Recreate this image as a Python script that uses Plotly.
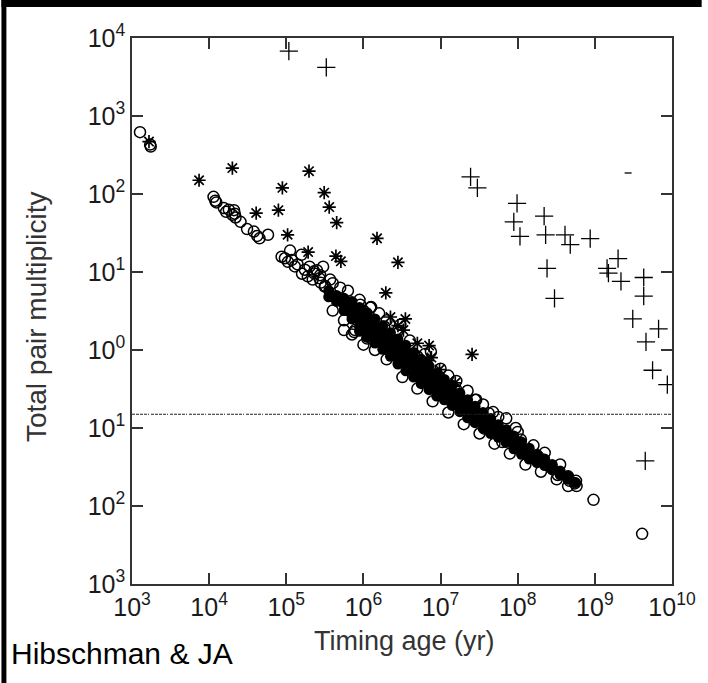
import plotly.graph_objects as go

# ---------------- data ----------------
# open circles: outliers and edges of the dense band
circ_age = [1.27e3, 1.72e3, 1.75e3,
            1.14e4, 1.2e4, 1.24e4, 1.55e4, 1.8e4, 2.1e4, 1.66e4, 2.0e4, 2.15e4, 2.55e4, 3.1e4, 3.8e4, 4.2e4, 4.5e4, 5.8e4, 2.2e4,
            8.7e4, 1.12e5, 9.6e4, 1.18e5, 1.57e5, 1.29e5, 1.74e5, 2.0e5, 2.3e5, 2.7e5, 3.15e5, 1.05e5, 1.4e5, 1.6e5, 1.9e5, 2.5e5, 2.2e5, 2.8e5,
            2.3e5, 3.0e5, 2.75e5, 3.7e5, 3.2e5,
            1.0e6, 5.6e5, 7.6e5, 1.23e6, 1.86e6, 2.1e6, 1.12e6, 7.8e5, 2.6e6, 3.3e6,
            2.75e6, 5.0e6, 1.26e7, 1.6e7, 2.8e7, 2.9e7, 4.2e7, 4.8e7, 7.1e7, 9.4e7, 1.1e8, 1.85e8, 2.75e8, 4.5e8, 5.5e8, 5.7e8,
            3.7e7, 6.3e7, 1.38e8, 2.7e8, 3.3e8, 4.7e8, 5.8e8,
            4.0e5, 5.0e5, 6.3e5, 8.9e5, 1.26e6, 1.6e6, 2.0e6, 2.8e6, 4.0e6, 6.3e6, 1.0e7, 1.6e7, 2.24e7, 3.55e7,
            5.6e7, 1.0e8, 1.6e8, 2.24e8, 3.55e8,
            4.0e5, 5.6e5, 7.1e5, 1.0e6, 1.41e6, 2.0e6, 3.2e6, 5.0e6, 7.9e6, 1.26e7, 2.0e7, 3.2e7, 5.0e7, 7.9e7,
            1.26e8, 2.0e8, 3.2e8, 4.5e8,
            9.1e5, 1.23e6, 3.0e6, 7.5e6,
            9.6e8, 4.1e9]
circ_mult = [620, 430, 405,
             92, 82, 78, 66, 63, 62, 59, 54, 56, 44, 35.5, 33, 29, 27, 30, 50,
             15.7, 18.8, 15, 14.3, 16.6, 11.8, 10.7, 11.7, 9.6, 8.3, 6.5, 13.5, 12.5, 9.5, 8.8, 10.5, 8.0, 7.3,
             10.2, 11.7, 9.1, 8.0, 6.6,
             3.2, 1.8, 1.7, 3.5, 2.0, 1.55, 1.4, 1.8, 1.15, 0.93,
             1.23, 0.83, 0.47, 0.31, 0.23, 0.23, 0.155, 0.16, 0.133, 0.1, 0.071, 0.043, 0.032, 0.024, 0.0195, 0.021,
             0.098, 0.066, 0.045, 0.031, 0.025, 0.021, 0.018,
             7.2, 6.3, 5.75, 4.4, 3.55, 2.95, 2.4, 1.78, 1.32, 0.89, 0.575, 0.4, 0.3, 0.2,
             0.138, 0.089, 0.06, 0.048, 0.034,
             3.2, 2.4, 1.58, 1.17, 1.0, 0.76, 0.45, 0.32, 0.22, 0.158, 0.112, 0.085, 0.063, 0.047,
             0.034, 0.0275, 0.022, 0.018,
             3.8, 3.5, 2.1, 0.95,
             0.012, 0.0044]

# densely packed circles inside the band (appear solid black)
core_age = [3.55e5, 3.55e5,
            4.47e5, 4.47e5,
            5.6e5, 5.6e5, 5.6e5,
            7.1e5, 7.1e5, 7.1e5, 7.1e5,
            8.9e5, 8.9e5, 8.9e5, 8.9e5, 8.9e5,
            1.12e6, 1.12e6, 1.12e6, 1.12e6, 1.12e6,
            1.41e6, 1.41e6, 1.41e6, 1.41e6, 1.41e6,
            1.78e6, 1.78e6, 1.78e6, 1.78e6, 1.78e6,
            2.24e6, 2.24e6, 2.24e6, 2.24e6, 2.24e6,
            2.8e6, 2.8e6, 2.8e6, 2.8e6, 2.8e6,
            3.55e6, 3.55e6, 3.55e6, 3.55e6, 3.55e6,
            4.47e6, 4.47e6, 4.47e6, 4.47e6, 4.47e6,
            5.6e6, 5.6e6, 5.6e6, 5.6e6, 5.6e6,
            7.1e6, 7.1e6, 7.1e6, 7.1e6, 7.1e6,
            8.9e6, 8.9e6, 8.9e6, 8.9e6, 8.9e6,
            1.12e7, 1.12e7, 1.12e7, 1.12e7,
            1.41e7, 1.41e7, 1.41e7, 1.41e7,
            1.78e7, 1.78e7, 1.78e7, 1.78e7,
            2.24e7, 2.24e7, 2.24e7, 2.24e7,
            2.8e7, 2.8e7, 2.8e7, 2.8e7,
            3.55e7, 3.55e7, 3.55e7, 3.55e7,
            4.47e7, 4.47e7, 4.47e7, 4.47e7,
            5.6e7, 5.6e7, 5.6e7,
            7.1e7, 7.1e7, 7.1e7,
            8.9e7, 8.9e7, 8.9e7,
            1.12e8, 1.12e8, 1.12e8,
            1.41e8, 1.41e8, 1.41e8,
            1.78e8, 1.78e8,
            2.24e8, 2.24e8,
            2.8e8, 2.8e8,
            3.55e8, 3.55e8,
            4.47e8, 4.47e8,
            5.6e8]
core_mult = [5.75, 4.8,
             5.0, 4.2,
             4.6, 3.8, 3.2,
             4.2, 3.5, 2.9, 2.5,
             3.5, 2.9, 2.4, 2.0, 1.74,
             3.0, 2.5, 2.1, 1.74, 1.45,
             2.5, 2.1, 1.74, 1.45, 1.23,
             2.04, 1.7, 1.41, 1.17, 1.02,
             1.66, 1.38, 1.15, 0.95, 0.83,
             1.38, 1.15, 0.95, 0.79, 0.66,
             1.15, 0.95, 0.79, 0.66, 0.54,
             0.93, 0.78, 0.65, 0.54, 0.45,
             0.76, 0.63, 0.52, 0.44, 0.37,
             0.62, 0.51, 0.43, 0.355, 0.31,
             0.5, 0.42, 0.35, 0.29, 0.257,
             0.42, 0.35, 0.29, 0.23,
             0.35, 0.29, 0.24, 0.195,
             0.28, 0.234, 0.195, 0.162,
             0.23, 0.19, 0.158, 0.135,
             0.19, 0.158, 0.132, 0.117,
             0.158, 0.132, 0.11, 0.1,
             0.132, 0.11, 0.091, 0.085,
             0.11, 0.091, 0.076,
             0.095, 0.079, 0.065,
             0.079, 0.066, 0.054,
             0.066, 0.055, 0.046,
             0.055, 0.046, 0.04,
             0.046, 0.036,
             0.04, 0.033,
             0.034, 0.029,
             0.028, 0.025,
             0.024, 0.022,
             0.02]

# asterisks
star_age = [1.66e3, 7.4e3, 2.0e4, 4.07e4, 7.9e4, 8.9e4, 1.04e5, 1.97e5, 1.92e5, 3.1e5, 3.6e5, 4.5e5, 4.4e5, 5.1e5,
            1.5e6, 2.8e6, 1.95e6, 2.24e6, 2.8e6, 3.5e6, 3.3e6, 5.0e6, 7.1e6, 6.7e6, 9.7e6, 2.56e7, 1.55e7, 7.6e6]
star_mult = [470, 150, 215, 57, 62, 120, 30, 196, 18, 104, 68, 43, 16, 13.7,
             27, 13.3, 5.4, 2.65, 2.05, 2.5, 1.8, 1.22, 1.14, 0.73, 0.56, 0.88, 0.38, 0.8]

# plus signs
plus_age = [1.08e5, 3.3e5, 2.45e7, 3.0e7, 9.8e7, 8.9e7, 1.07e8, 2.2e8, 2.3e8, 2.4e8, 3.0e8, 4.1e8, 4.8e8, 8.7e8,
            1.44e9, 1.5e9, 2.0e9, 2.18e9, 4.3e9, 4.3e9, 3.1e9, 6.7e9, 4.6e9, 5.6e9, 8.7e9, 4.5e9]
plus_mult = [6800, 4200, 166, 120, 76, 44, 28.6, 52, 30, 11.1, 4.6, 30, 22.4, 26.8,
             11.1, 9.7, 14.8, 7.6, 8.5, 4.9, 2.5, 1.87, 1.27, 0.55, 0.36, 0.038]

# small dash mark
dash_age = [2.7e9]
dash_mult = [186]

threshold = 0.15

xtick_vals = [1e3, 1e4, 1e5, 1e6, 1e7, 1e8, 1e9, 1e10]
xtick_text = ["10<sup>3</sup>", "10<sup>4</sup>", "10<sup>5</sup>", "10<sup>6</sup>",
              "10<sup>7</sup>", "10<sup>8</sup>", "10<sup>9</sup>", "10<sup>10</sup>"]
ytick_vals = [1e-3, 1e-2, 1e-1, 1e0, 1e1, 1e2, 1e3, 1e4]
ytick_text = ["10<sup>3</sup>", "10<sup>2</sup>", "10<sup>1</sup>", "10<sup>0</sup>",
              "10<sup>1</sup>", "10<sup>2</sup>", "10<sup>3</sup>", "10<sup>4</sup>"]

# ---------------- figure ----------------
W, H = 708, 683
L, R, T, B = 132, 30, 38, 99
PW, PH = W - L - R, H - T - B

def px_x(p):
    return (p - L) / PW

def px_y(p):
    return (H - B - p) / PH

fig = go.Figure()
fig.add_trace(go.Scatter(x=core_age, y=core_mult, mode="markers",
                         marker=dict(symbol="circle", size=11, color="black",
                                     line=dict(width=0)), hoverinfo="skip"))
fig.add_trace(go.Scatter(x=circ_age, y=circ_mult, mode="markers",
                         marker=dict(symbol="circle-open", size=11, color="black",
                                     line=dict(width=1.5, color="black"))))
fig.add_trace(go.Scatter(x=star_age, y=star_mult, mode="markers",
                         marker=dict(symbol="asterisk-open", size=11, color="black",
                                     line=dict(width=1.7, color="black"))))
fig.add_trace(go.Scatter(x=plus_age, y=plus_mult, mode="markers",
                         marker=dict(symbol="cross-thin-open", size=13, color="black",
                                     line=dict(width=1.3, color="black"))))
fig.add_trace(go.Scatter(x=dash_age, y=dash_mult, mode="markers",
                         marker=dict(symbol="line-ew-open", size=5, color="black",
                                     line=dict(width=1.3, color="black"))))

fig.add_shape(type="line", xref="paper", yref="y", x0=0, x1=1, y0=threshold, y1=threshold,
              line=dict(color="#222", width=1, dash="3px,1px,3px,1px,3px,1px,3px,1px,1px,2px"))

# black borders of the screenshot (left and top), kept inside the page
fig.add_shape(type="rect", xref="paper", yref="paper", x0=px_x(0), x1=px_x(5), y0=px_y(H), y1=px_y(0),
              fillcolor="black", line=dict(width=0))
fig.add_shape(type="rect", xref="paper", yref="paper", x0=px_x(0), x1=px_x(W), y0=px_y(7), y1=px_y(0),
              fillcolor="black", line=dict(width=0))

axis_common = dict(type="log", showgrid=False, zeroline=False, showline=True, linecolor="#333",
                   linewidth=1.5, mirror="ticks", ticks="inside", ticklen=11, tickwidth=1.5,
                   tickcolor="#333", tickfont=dict(family="Liberation Sans, Arial", size=25, color="#1a1a1a"))

fig.update_xaxes(range=[3, 10], tickvals=xtick_vals, ticktext=xtick_text, **axis_common)
fig.update_yaxes(range=[-3, 4], tickvals=ytick_vals, ticktext=ytick_text, **axis_common)

fig.add_annotation(text="Total pair multiplicity", xref="paper", yref="paper",
                   x=px_x(35), y=px_y(317), textangle=-90, showarrow=False,
                   font=dict(family="Liberation Sans, Arial", size=28, color="#333"),
                   xanchor="center", yanchor="middle")
fig.add_annotation(text="Timing age (yr)", xref="paper", yref="paper",
                   x=px_x(408), y=px_y(641), showarrow=False,
                   font=dict(family="Liberation Sans, Arial", size=27, color="#333"),
                   xanchor="center", yanchor="middle")
fig.add_annotation(text="Hibschman &amp; JA", xref="paper", yref="paper",
                   x=px_x(8), y=px_y(653), showarrow=False,
                   font=dict(family="Liberation Sans, Arial", size=30, color="black"),
                   xanchor="left", yanchor="middle")

fig.update_layout(width=W, height=H, margin=dict(l=L, r=R, t=T, b=B),
                  paper_bgcolor="white", plot_bgcolor="white", showlegend=False)

fig.write_html("out.html")
